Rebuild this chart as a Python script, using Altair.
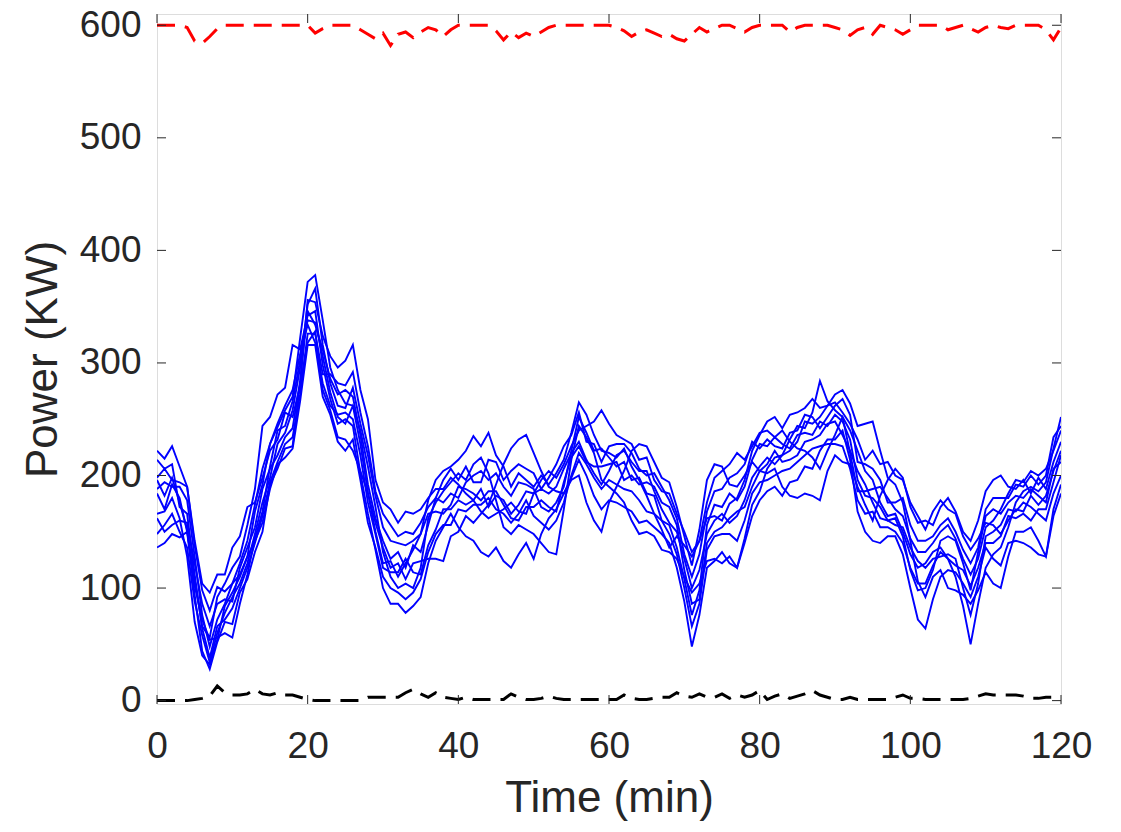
import altair as alt
import pandas as pd

t = list(range(0, 121))

s1 = [222,215,226,208,190,138,98,80,101,97,104,112,128,168,192,228,243,258,270,322,372,378,338,296,276,264,262,228,185,150,122,124,110,122,134,148,178,196,204,208,214,222,235,226,238,218,208,190,202,196,190,200,192,202,214,238,265,254,236,222,220,216,224,208,196,182,166,152,136,146,138,128,142,162,164,160,175,180,196,222,236,248,252,242,254,256,260,268,260,262,265,256,246,232,214,222,210,212,200,196,176,164,152,168,178,170,166,146,134,144,158,156,148,160,170,168,182,174,182,204,222]
s2 = [136,140,148,145,150,108,66,56,92,104,118,128,156,188,244,252,272,278,316,312,342,346,298,268,246,250,244,202,166,134,100,86,86,78,84,92,122,142,154,166,154,146,142,132,128,136,124,118,130,140,126,148,162,170,184,198,214,200,182,170,178,176,172,168,158,160,154,148,140,118,88,48,76,118,124,132,122,118,140,164,178,186,190,182,194,196,208,206,222,232,232,240,214,168,150,142,140,146,146,130,100,72,64,90,110,116,114,104,92,110,136,126,120,140,142,140,136,130,128,170,192]
s3 = [184,170,192,180,150,94,44,28,52,70,68,96,108,132,150,192,206,224,226,282,356,354,324,306,296,302,316,276,250,196,176,170,158,168,166,170,180,188,188,198,192,184,178,188,172,182,178,166,174,186,184,196,204,198,210,226,240,244,248,258,246,236,232,228,214,216,196,186,184,166,150,132,142,176,198,204,210,220,214,226,238,240,234,240,230,224,222,216,206,222,236,252,240,222,204,196,176,164,166,150,130,118,122,132,136,126,110,84,50,86,118,130,136,154,176,186,190,186,194,224,252]
s4 = [198,206,196,194,190,142,104,96,112,112,136,146,172,176,198,222,232,256,252,280,318,328,276,258,234,232,222,204,184,158,136,118,122,108,122,124,126,126,124,146,150,164,158,166,174,192,210,224,232,236,220,204,190,186,184,196,200,176,160,150,176,190,204,222,228,226,212,198,194,172,146,120,152,196,210,208,192,190,200,212,204,202,206,190,182,180,184,182,178,204,218,212,210,190,174,160,182,196,206,198,172,158,160,156,172,180,168,150,142,160,186,196,200,190,188,196,184,198,188,212,230]
s5 = [196,182,198,176,152,102,72,54,56,60,56,86,112,144,168,208,240,244,266,302,338,336,306,274,252,246,262,240,208,172,132,110,100,104,100,118,162,176,186,194,202,196,210,216,202,178,154,148,156,152,148,140,132,130,170,214,244,234,220,196,190,184,176,160,148,150,146,134,132,126,110,96,104,124,126,122,128,118,144,174,186,206,216,218,222,230,248,246,252,262,272,276,264,244,246,248,222,198,192,176,142,106,92,110,116,100,98,94,86,98,114,104,100,128,150,150,154,142,128,164,184]
s6 = [162,150,156,160,158,122,86,66,86,90,88,118,136,154,188,206,218,234,242,284,346,334,312,286,272,276,270,236,192,162,142,126,132,118,138,132,156,180,176,184,180,194,200,204,196,202,190,182,194,192,188,172,168,176,190,222,252,238,222,224,216,208,212,196,198,184,182,160,156,136,108,76,98,156,174,172,184,178,190,214,228,226,234,228,224,236,238,236,248,244,254,248,232,196,182,180,172,160,162,146,116,98,100,116,142,146,142,122,98,132,164,170,166,176,182,180,188,182,176,206,212]
s7 = [188,194,190,190,178,128,76,48,72,86,104,122,142,174,206,228,246,262,276,308,334,318,282,262,254,256,250,218,176,148,118,114,114,126,114,112,138,152,170,170,178,174,178,168,162,166,170,176,168,166,184,188,184,190,206,220,230,214,202,192,204,218,222,212,204,204,186,170,158,150,126,100,116,148,160,166,158,164,178,198,208,216,210,218,232,244,242,256,284,266,258,252,220,186,186,188,190,180,170,164,144,132,132,140,150,156,144,126,112,126,154,160,170,184,196,194,204,200,206,222,240]
s8 = [148,156,166,150,136,88,58,34,60,78,92,104,122,148,176,198,228,238,258,296,352,366,316,282,262,260,278,246,218,182,154,142,140,138,142,148,166,168,166,174,190,188,184,178,186,186,174,162,160,172,172,178,172,168,194,216,226,212,208,208,210,212,196,200,192,194,190,176,172,156,116,86,90,140,150,154,162,168,172,190,204,210,222,212,214,218,230,232,236,246,248,236,222,204,192,176,162,160,156,154,136,124,118,126,128,130,126,100,76,104,146,150,156,170,168,176,172,166,160,184,200]
s9 = [214,206,210,172,166,112,64,38,66,72,82,100,118,140,164,194,212,228,234,272,326,326,290,290,282,280,292,256,226,186,166,156,146,150,148,158,172,180,196,206,196,208,194,194,214,212,196,204,210,206,202,188,198,210,226,236,256,230,228,212,226,228,228,220,206,200,202,190,178,162,130,110,130,168,186,188,198,202,210,230,224,232,226,224,238,240,254,252,242,252,262,268,254,212,210,206,196,176,176,180,156,142,142,146,156,162,150,134,122,136,170,180,180,180,192,190,200,192,200,234,244]
s10 = [166,168,180,162,128,70,40,32,54,84,96,110,128,142,158,188,210,216,224,266,316,316,270,254,230,222,232,196,158,136,110,100,96,90,96,108,132,148,156,156,170,168,174,174,180,170,166,158,166,178,164,158,152,160,176,200,220,210,198,188,196,192,188,186,178,168,166,160,148,130,100,66,86,134,146,148,148,142,160,184,194,196,200,204,206,212,218,224,226,228,228,226,206,178,166,168,154,154,150,140,118,104,104,120,132,126,120,116,102,118,140,140,146,164,162,166,160,170,170,194,218]

upper = [600,600,600,600,598,586,584,590,597,600,600,600,600,600,600,600,600,600,600,600,600,593,597,600,600,600,600,596,592,588,593,582,592,594,589,594,598,596,590,596,600,600,600,600,600,595,587,594,589,593,590,594,598,600,600,600,600,600,600,600,600,598,595,590,594,596,593,590,592,588,586,592,598,594,597,600,600,597,594,598,600,600,600,600,594,598,600,600,600,600,598,596,591,596,598,592,600,598,596,592,596,600,600,600,600,596,598,600,597,594,598,600,598,597,600,600,600,600,596,587,598]
lower = [0,0,0,0,0,1,2,4,13,7,5,5,6,10,6,5,7,5,5,3,1,0,0,0,0,0,0,0,3,3,3,3,3,7,10,6,3,7,3,2,1,3,1,1,1,1,1,6,3,1,1,2,4,2,1,1,1,1,1,1,1,1,5,2,1,1,2,3,3,7,4,3,6,3,3,6,2,5,3,5,9,1,4,6,2,4,6,9,5,3,1,1,3,1,1,1,1,1,3,5,2,2,1,1,1,1,1,1,2,4,6,5,5,5,5,4,2,2,3,3,3]

x_ticks = [0, 20, 40, 60, 80, 100, 120]
y_ticks = [0, 100, 200, 300, 400, 500, 600]

runs = [s1, s2, s3, s4, s5, s6, s7, s8, s9, s10]
rows = []
for i, s in enumerate(runs):
    for tt, v in zip(t, s):
        rows.append({"t": tt, "p": v, "run": f"run{i+1}"})
blue_df = pd.DataFrame(rows)
up_df = pd.DataFrame({"t": t, "p": upper})
lo_df = pd.DataFrame({"t": t, "p": lower})
xt_df = pd.DataFrame({"v": x_ticks})
yt_df = pd.DataFrame({"v": y_ticks})

W, H = 904, 690
FONT = "Liberation Sans"
TXT = "#262626"

xscale = alt.Scale(domain=[0, 120], nice=False, zero=False)
yscale = alt.Scale(domain=[-3, 610], nice=False, zero=False)

xaxis = alt.Axis(values=x_ticks, title="Time (min)", grid=False, ticks=False, domain=False,
                 labelFont=FONT, labelFontSize=37, labelColor=TXT, labelPadding=24,
                 titleFont=FONT, titleFontSize=44, titleColor=TXT, titleFontWeight="normal",
                 titlePadding=12, labelFlush=False)
yaxis = alt.Axis(values=y_ticks, title="Power (KW)", grid=False, ticks=False, domain=False,
                 labelFont=FONT, labelFontSize=37, labelColor=TXT, labelPadding=16,
                 titleFont=FONT, titleFontSize=44, titleColor=TXT, titleFontWeight="normal",
                 titlePadding=14, labelFlush=False)

blue = alt.Chart(blue_df).mark_line(color="#0000FF", strokeWidth=1.9, clip=True).encode(
    x=alt.X("t:Q", scale=xscale, axis=xaxis),
    y=alt.Y("p:Q", scale=yscale, axis=yaxis),
    detail="run:N",
)
red = alt.Chart(up_df).mark_line(color="#FF0000", strokeWidth=3, strokeDash=[18, 10], clip=True).encode(
    x=alt.X("t:Q", scale=xscale), y=alt.Y("p:Q", scale=yscale)
)
black = alt.Chart(lo_df).mark_line(color="#000000", strokeWidth=3, strokeDash=[18, 10], clip=True).encode(
    x=alt.X("t:Q", scale=xscale), y=alt.Y("p:Q", scale=yscale)
)

TK = "#262626"
xt_bottom = alt.Chart(xt_df).mark_rule(color=TK, strokeWidth=1).encode(
    x=alt.X("v:Q", scale=xscale), y=alt.value(H), y2=alt.value(H - 9))
xt_top = alt.Chart(xt_df).mark_rule(color=TK, strokeWidth=1).encode(
    x=alt.X("v:Q", scale=xscale), y=alt.value(0), y2=alt.value(9))
yt_left = alt.Chart(yt_df).mark_rule(color=TK, strokeWidth=1).encode(
    y=alt.Y("v:Q", scale=yscale), x=alt.value(0), x2=alt.value(9))
yt_right = alt.Chart(yt_df).mark_rule(color=TK, strokeWidth=1).encode(
    y=alt.Y("v:Q", scale=yscale), x=alt.value(W), x2=alt.value(W - 9))

chart = alt.layer(blue, red, black, xt_bottom, xt_top, yt_left, yt_right).properties(
    width=W, height=H,
    autosize=alt.AutoSizeParams(type="none"),
    padding={"left": 157, "top": 14, "right": 60, "bottom": 128},
).configure_view(stroke="#404040", strokeWidth=1.2).configure(background="white")

chart.save("out.html", embed_options={"renderer": "svg", "actions": False})
